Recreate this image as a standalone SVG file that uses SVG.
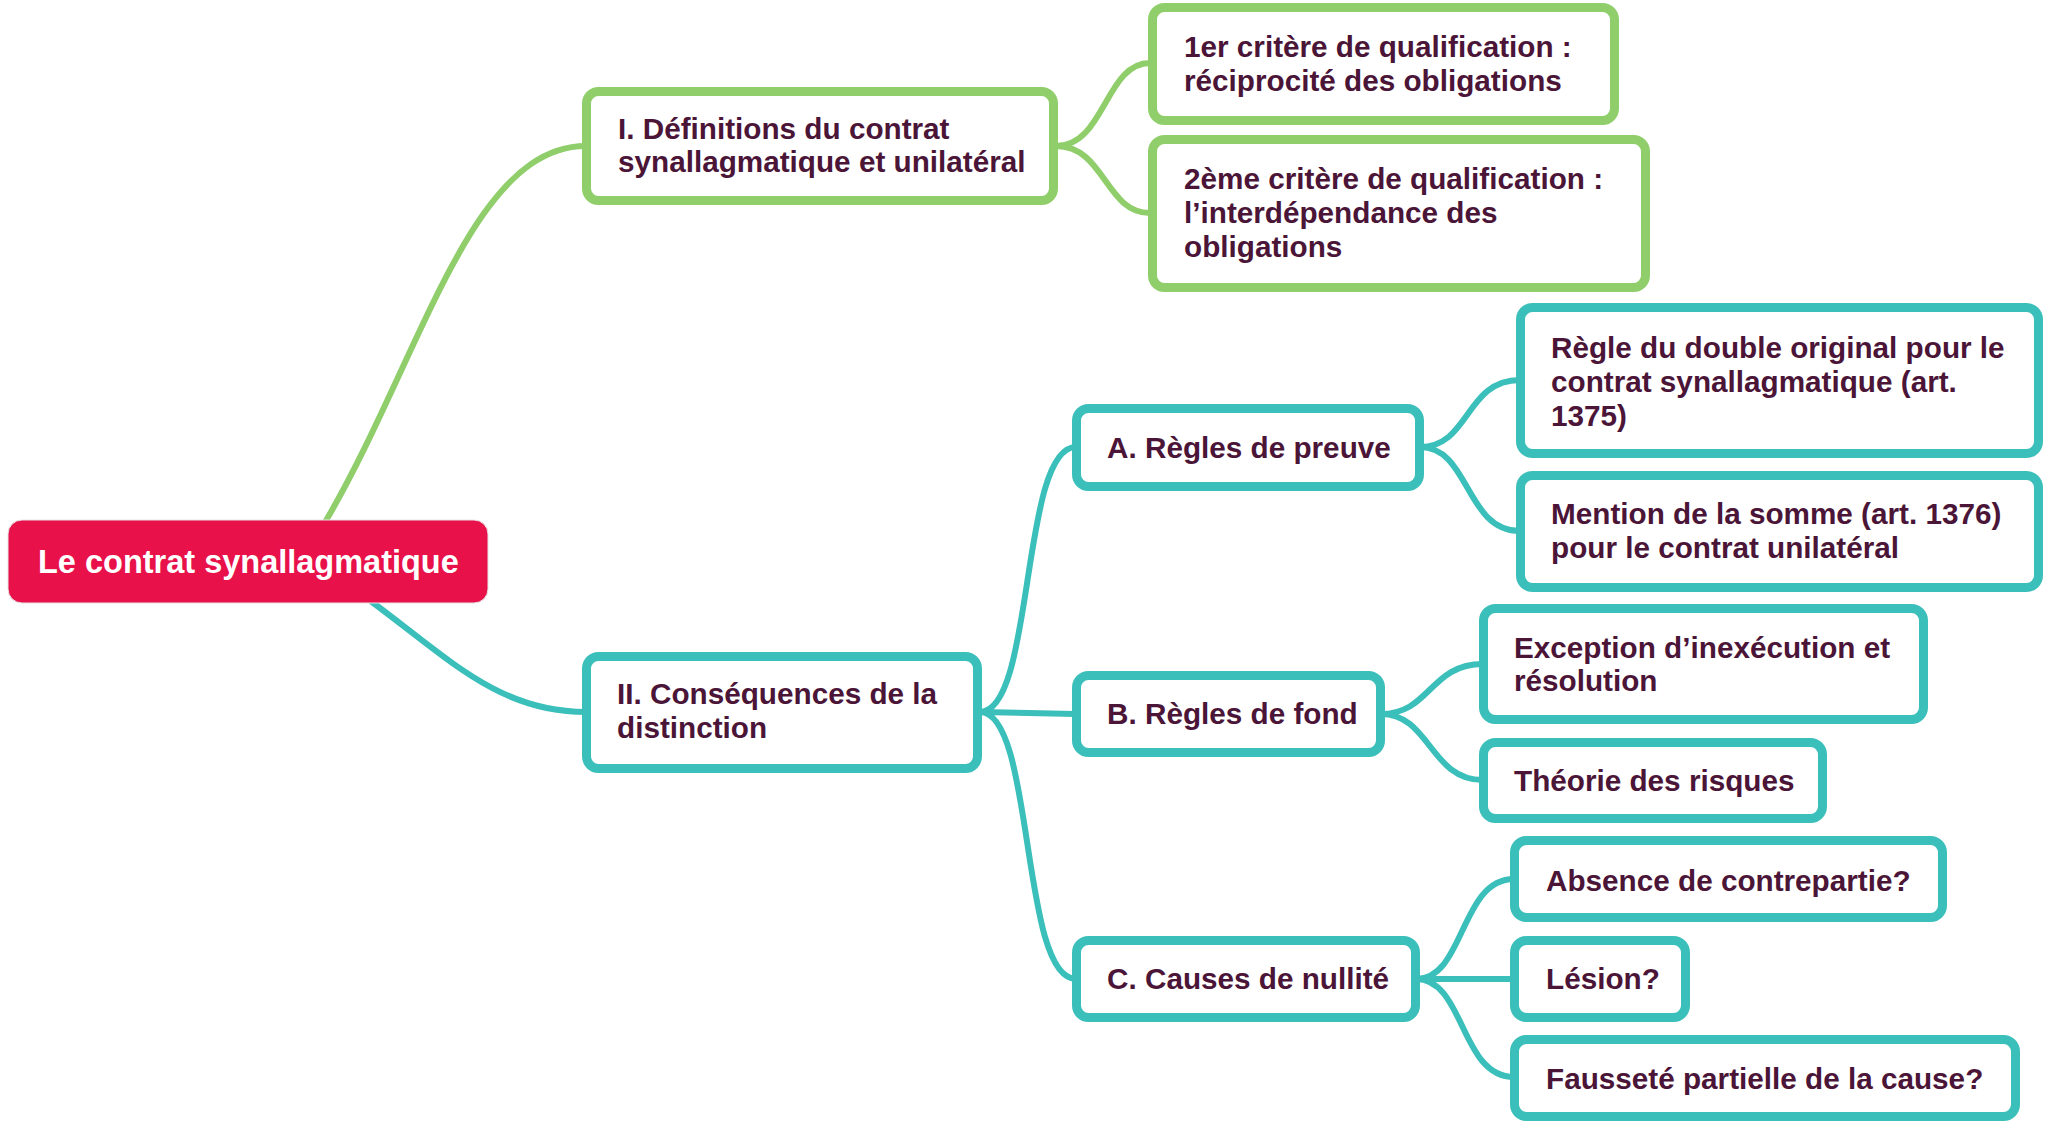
<svg xmlns="http://www.w3.org/2000/svg" width="2048" height="1124" viewBox="0 0 2048 1124">
<style>
.g{fill:#fff;stroke:#8fce6a;stroke-width:9}
.t{fill:#fff;stroke:#3bbfba;stroke-width:9}
.cg{fill:none;stroke:#8fce6a;stroke-width:6;stroke-linecap:round}
.ct{fill:none;stroke:#3bbfba;stroke-width:6;stroke-linecap:round}
text{font-family:"Liberation Sans",Arial,sans-serif;font-weight:bold;font-size:29.7px;fill:#4b1538}
.root{fill:#fff;font-size:32.5px}
</style>
<rect width="2048" height="1124" fill="#fff"/>
<g id="connectors">
<path class="cg" d="M324 524 C420 362 470 146 586 146"/>
<path class="ct" d="M372 602 C450 660 500 712 586 712"/>
<path class="cg" d="M1056 146 C1105 146 1105 63 1150 63"/>
<path class="cg" d="M1056 146 C1105 146 1105 213 1150 213"/>
<path class="ct" d="M980 712 C1035 712 1020 447 1076 447"/>
<path class="ct" d="M980 712 L1076 714"/>
<path class="ct" d="M980 712 C1035 712 1020 979 1076 979"/>
<path class="ct" d="M1420 447 C1470 447 1465 380 1520 380"/>
<path class="ct" d="M1420 447 C1470 447 1465 531 1520 531"/>
<path class="ct" d="M1381 714 C1430 714 1430 664 1483 664"/>
<path class="ct" d="M1381 714 C1430 714 1430 780 1483 780"/>
<path class="ct" d="M1416 979 C1465 979 1460 879 1514 879"/>
<path class="ct" d="M1416 979 L1514 979"/>
<path class="ct" d="M1416 979 C1465 979 1460 1077 1514 1077"/>
</g>
<g id="root">
<rect x="8" y="520" width="480" height="83" rx="14" fill="#e8114a" stroke="#e4e4e4" stroke-width="1"/>
<text class="root" x="38" y="573">Le contrat synallagmatique</text>
</g>
<g id="n1">
<rect class="g" x="586.5" y="91.5" width="467" height="109" rx="12"/>
<text x="618" y="139">I. Définitions du contrat</text>
<text x="618" y="172">synallagmatique et unilatéral</text>
</g>
<g id="n1a">
<rect class="g" x="1152.5" y="7.5" width="462" height="113" rx="12"/>
<text x="1184" y="57">1er critère de qualification :</text>
<text x="1184" y="91">réciprocité des obligations</text>
</g>
<g id="n1b">
<rect class="g" x="1152.5" y="139.5" width="493" height="148" rx="12"/>
<text x="1184" y="189">2ème critère de qualification :</text>
<text x="1184" y="223">l’interdépendance des</text>
<text x="1184" y="257">obligations</text>
</g>
<g id="n2">
<rect class="t" x="586.5" y="656.5" width="391" height="112" rx="12"/>
<text x="617" y="704">II. Conséquences de la</text>
<text x="617" y="738">distinction</text>
</g>
<g id="nA">
<rect class="t" x="1076.5" y="408.5" width="343" height="78" rx="12"/>
<text x="1107" y="458">A. Règles de preuve</text>
</g>
<g id="nA1">
<rect class="t" x="1520.5" y="307.5" width="518" height="146" rx="12"/>
<text x="1551" y="358">Règle du double original pour le</text>
<text x="1551" y="392">contrat synallagmatique (art.</text>
<text x="1551" y="426">1375)</text>
</g>
<g id="nA2">
<rect class="t" x="1520.5" y="475.5" width="518" height="112" rx="12"/>
<text x="1551" y="524">Mention de la somme (art. 1376)</text>
<text x="1551" y="558">pour le contrat unilatéral</text>
</g>
<g id="nB">
<rect class="t" x="1076.5" y="675.5" width="304" height="77" rx="12"/>
<text x="1107" y="724">B. Règles de fond</text>
</g>
<g id="nB1">
<rect class="t" x="1483.5" y="608.5" width="440" height="111" rx="12"/>
<text x="1514" y="658">Exception d’inexécution et</text>
<text x="1514" y="691">résolution</text>
</g>
<g id="nB2">
<rect class="t" x="1483.5" y="742.5" width="339" height="76" rx="12"/>
<text x="1514" y="791">Théorie des risques</text>
</g>
<g id="nC">
<rect class="t" x="1076.5" y="940.5" width="339" height="77" rx="12"/>
<text x="1107" y="989">C. Causes de nullité</text>
</g>
<g id="nC1">
<rect class="t" x="1514.5" y="840.5" width="428" height="77" rx="12"/>
<text x="1546" y="891">Absence de contrepartie?</text>
</g>
<g id="nC2">
<rect class="t" x="1514.5" y="940.5" width="171" height="77" rx="12"/>
<text x="1546" y="989">Lésion?</text>
</g>
<g id="nC3">
<rect class="t" x="1514.5" y="1039.5" width="501" height="77" rx="12"/>
<text x="1546" y="1089">Fausseté partielle de la cause?</text>
</g>
</svg>
